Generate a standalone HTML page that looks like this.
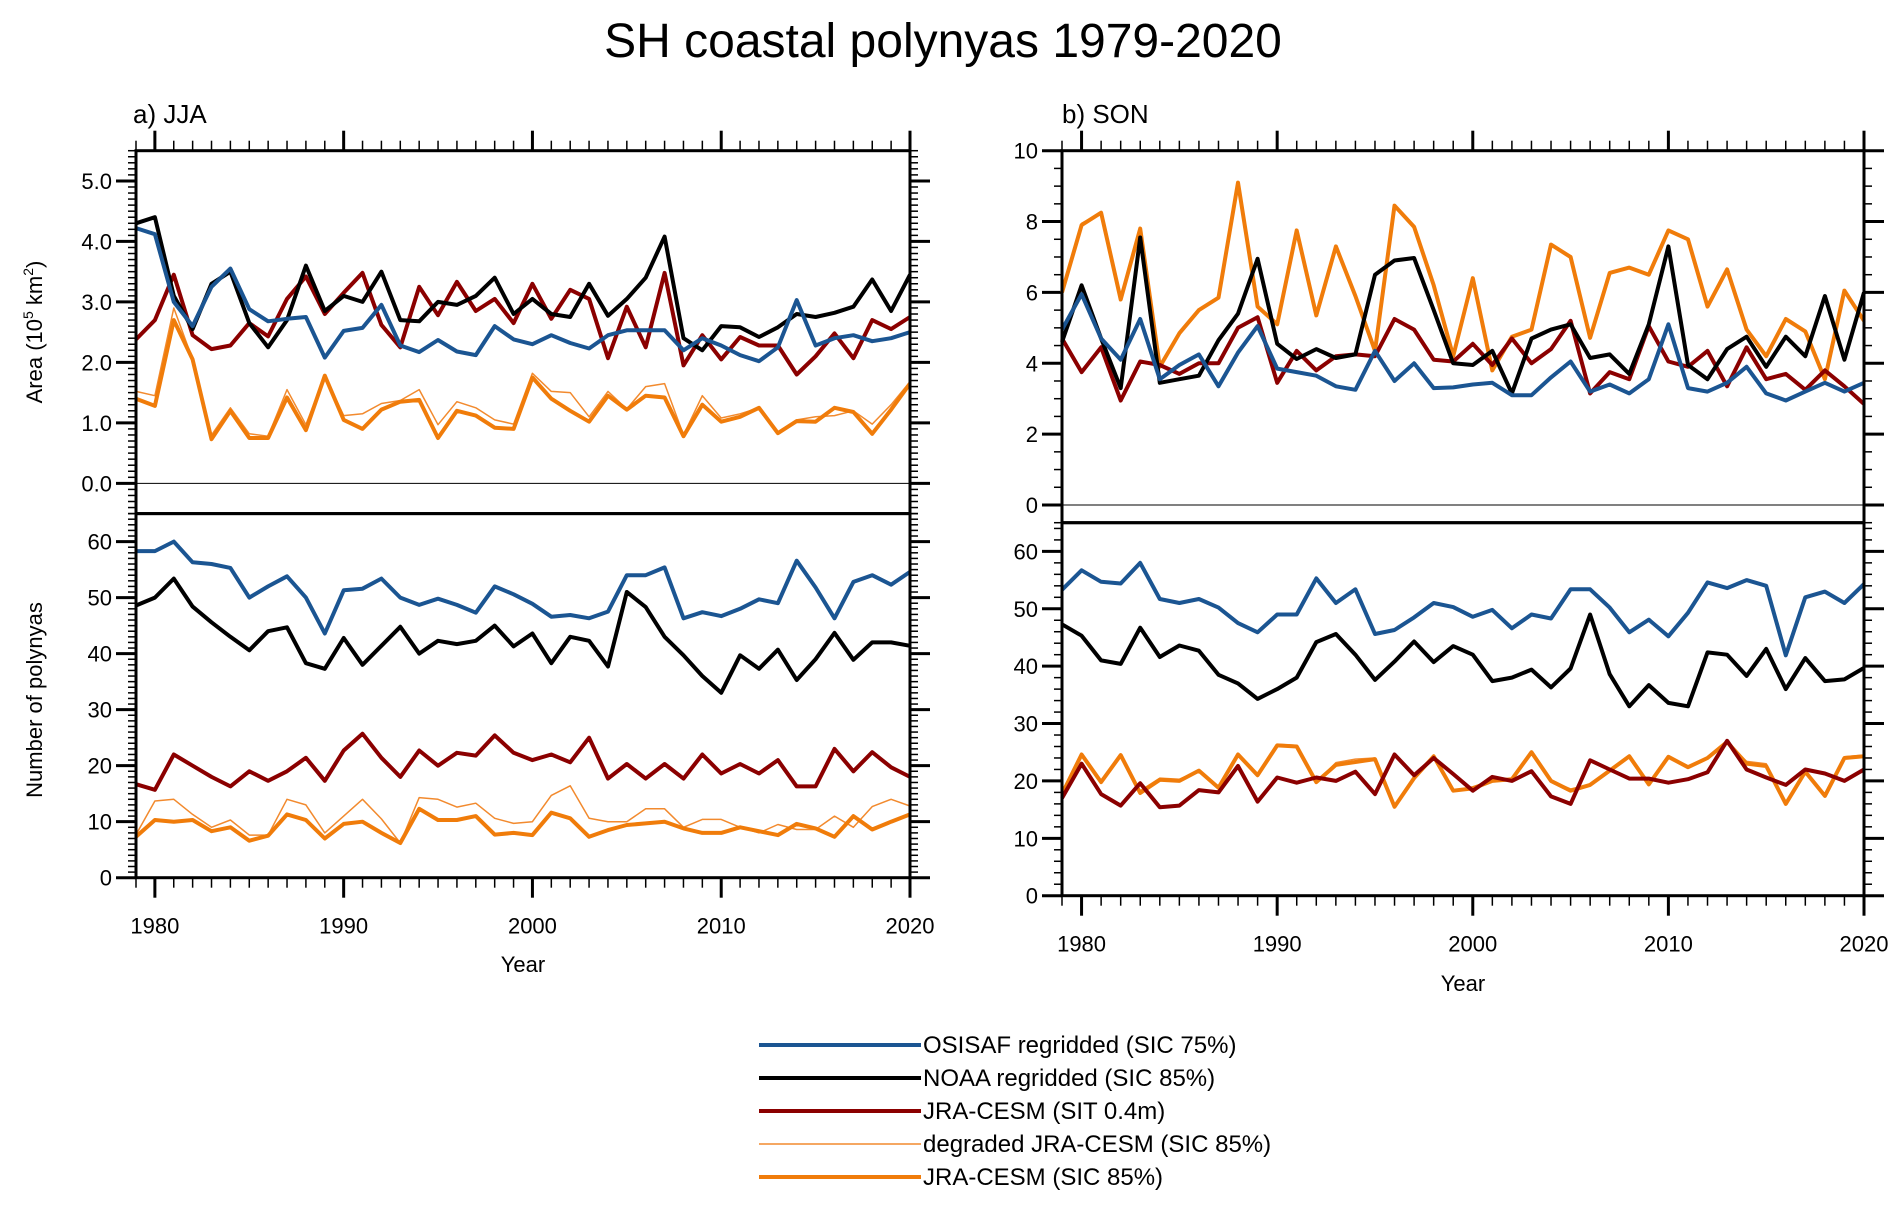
<!DOCTYPE html>
<html><head><meta charset="utf-8">
<style>
html,body{margin:0;padding:0;background:#fff;}
svg{display:block;font-family:"Liberation Sans",sans-serif;}
</style></head>
<body>
<svg id="fig" width="1892" height="1209" viewBox="0 0 1892 1209" xmlns="http://www.w3.org/2000/svg">
<text x="943" y="57" font-size="48" text-anchor="middle">SH coastal polynyas 1979-2020</text>
<text x="133" y="123" font-size="26">a) JJA</text>
<text x="1062" y="123" font-size="26">b) SON</text>
<g id="plots"></g>
<g font-size="24">
  <line x1="759" y1="1045" x2="921" y2="1045" stroke="#1b5592" stroke-width="4"/>
  <text x="923" y="1053">OSISAF regridded (SIC 75%)</text>
  <line x1="759" y1="1078" x2="921" y2="1078" stroke="#000" stroke-width="4"/>
  <text x="923" y="1086">NOAA regridded (SIC 85%)</text>
  <line x1="759" y1="1111" x2="921" y2="1111" stroke="#8b0000" stroke-width="4"/>
  <text x="923" y="1119">JRA-CESM (SIT 0.4m)</text>
  <line x1="759" y1="1144" x2="921" y2="1144" stroke="#f28a2e" stroke-width="1.5"/>
  <text x="923" y="1152">degraded JRA-CESM (SIC 85%)</text>
  <line x1="759" y1="1177" x2="921" y2="1177" stroke="#f07c0a" stroke-width="4"/>
  <text x="923" y="1185">JRA-CESM (SIC 85%)</text>
</g>
</svg>
<script>
const years = [];
for (let y = 1979; y <= 2020; y++) years.push(y);

// a) JJA area (10^5 km^2)
const jjaAreaOsisaf = [4.22,4.12,3.0,2.6,3.25,3.55,2.88,2.68,2.72,2.75,2.08,2.52,2.57,2.95,2.28,2.17,2.37,2.18,2.12,2.6,2.38,2.3,2.45,2.32,2.23,2.45,2.53,2.53,2.53,2.2,2.4,2.28,2.12,2.02,2.25,3.03,2.28,2.4,2.45,2.35,2.4,2.5];
const jjaAreaNoaa = [4.3,4.4,3.1,2.55,3.3,3.5,2.65,2.25,2.7,3.6,2.85,3.1,3.0,3.5,2.7,2.68,3.0,2.95,3.1,3.4,2.8,3.05,2.8,2.75,3.3,2.77,3.05,3.4,4.08,2.4,2.2,2.6,2.58,2.42,2.58,2.8,2.75,2.82,2.92,3.37,2.85,3.45];
const jjaAreaJraSit = [2.38,2.7,3.45,2.45,2.22,2.28,2.65,2.43,3.05,3.42,2.8,3.15,3.48,2.62,2.25,3.25,2.78,3.33,2.85,3.05,2.65,3.3,2.72,3.2,3.05,2.07,2.92,2.25,3.48,1.95,2.45,2.05,2.42,2.28,2.28,1.8,2.1,2.48,2.07,2.7,2.55,2.75];
const jjaAreaDegraded = [1.52,1.45,2.9,2.05,0.8,1.25,0.82,0.78,1.55,0.97,1.78,1.12,1.15,1.32,1.37,1.55,0.97,1.35,1.25,1.05,0.98,1.82,1.52,1.5,1.1,1.52,1.23,1.6,1.65,0.8,1.45,1.08,1.15,1.25,0.85,1.05,1.1,1.12,1.2,0.98,1.3,1.68];
const jjaAreaJraSic = [1.4,1.28,2.7,2.05,0.73,1.2,0.75,0.75,1.42,0.88,1.78,1.05,0.9,1.22,1.35,1.38,0.75,1.2,1.12,0.92,0.9,1.75,1.4,1.2,1.02,1.45,1.22,1.45,1.42,0.78,1.3,1.02,1.1,1.25,0.83,1.03,1.02,1.25,1.18,0.82,1.22,1.65];

// a) JJA number of polynyas
const jjaNumOsisaf = [58.3,58.3,60,56.3,56,55.3,50,52,53.8,50,43.6,51.3,51.6,53.4,50,48.7,49.8,48.7,47.3,52,50.6,48.9,46.6,46.9,46.3,47.5,54,54,55.4,46.3,47.4,46.7,48,49.7,49,56.6,51.8,46.3,52.8,54,52.3,54.6];
const jjaNumNoaa = [48.6,50,53.4,48.4,45.6,43,40.6,44,44.7,38.3,37.3,42.8,38,41.4,44.8,40,42.3,41.7,42.3,45,41.3,43.6,38.3,43,42.3,37.7,51,48.3,43,39.7,36,33,39.7,37.3,40.7,35.3,39,43.7,38.9,42,42,41.4];
const jjaNumJraSit = [16.7,15.7,22,20,18,16.3,19,17.3,19,21.4,17.3,22.7,25.7,21.4,18,22.7,20,22.3,21.8,25.4,22.3,21,22,20.6,25,17.7,20.3,17.7,20.3,17.7,22,18.6,20.3,18.6,21,16.3,16.3,23,19,22.4,19.7,18];
const jjaNumDegraded = [7.7,13.7,14,11.3,9,10.3,7.6,7.6,14,13,8,11,14,10.5,6.2,14.3,14,12.6,13.3,10.6,9.7,10,14.7,16.4,10.6,10,10,12.3,12.3,9,10.4,10.4,9,8,9.5,8.6,8.6,11,9,12.7,14,12.8];
const jjaNumJraSic = [7.3,10.3,10,10.3,8.3,9,6.6,7.5,11.3,10.3,7,9.6,10,8,6.2,12.3,10.3,10.3,11,7.7,8,7.6,11.6,10.6,7.3,8.5,9.4,9.7,10,8.8,8,8,9,8.3,7.6,9.6,8.8,7.3,11,8.6,10,11.3];

// b) SON area
const sonAreaOsisaf = [4.95,5.95,4.7,4.1,5.25,3.55,3.95,4.25,3.35,4.3,5.05,3.85,3.75,3.65,3.35,3.25,4.35,3.5,4.0,3.3,3.32,3.4,3.45,3.1,3.1,3.6,4.05,3.2,3.4,3.15,3.55,5.1,3.3,3.2,3.45,3.9,3.15,2.95,3.2,3.45,3.2,3.45];
const sonAreaNoaa = [4.6,6.2,4.7,3.3,7.55,3.45,3.55,3.65,4.65,5.4,6.95,4.55,4.12,4.4,4.15,4.25,6.5,6.9,6.97,5.5,4.0,3.95,4.35,3.15,4.7,4.95,5.1,4.15,4.25,3.7,5.1,7.3,3.95,3.55,4.4,4.75,3.9,4.75,4.2,5.9,4.1,6.0];
const sonAreaJraSit = [4.7,3.75,4.45,2.95,4.05,3.95,3.7,4.0,4.0,5.0,5.3,3.45,4.35,3.8,4.2,4.25,4.2,5.25,4.95,4.1,4.05,4.55,3.95,4.7,4.0,4.4,5.2,3.15,3.75,3.55,5.05,4.05,3.9,4.35,3.35,4.45,3.55,3.7,3.25,3.8,3.35,2.85];
const sonAreaDegraded = [6.05,7.95,8.25,5.85,7.8,3.95,4.85,5.5,5.85,9.1,5.6,5.15,7.75,5.35,7.3,5.9,4.4,8.45,7.85,6.2,4.25,6.4,3.85,4.75,4.95,7.35,7.0,4.75,6.55,6.7,6.5,7.75,7.5,5.6,6.65,4.95,4.2,5.25,4.9,3.6,6.05,5.2];
const sonAreaJraSic = [6.0,7.9,8.25,5.8,7.8,3.9,4.85,5.5,5.85,9.1,5.6,5.1,7.75,5.35,7.3,5.9,4.35,8.45,7.85,6.2,4.2,6.4,3.8,4.75,4.95,7.35,7.0,4.72,6.55,6.7,6.5,7.75,7.5,5.6,6.65,4.95,4.2,5.25,4.9,3.55,6.05,5.2];

// b) SON number of polynyas
const sonNumOsisaf = [53.3,56.7,54.7,54.4,58,51.7,51,51.7,50.2,47.5,45.9,49,49,55.3,51,53.4,45.6,46.3,48.5,51,50.3,48.6,49.8,46.6,49,48.3,53.4,53.4,50.2,45.9,48.1,45.2,49.3,54.6,53.6,55,54,41.9,52,53,51,54.3];
const sonNumNoaa = [47.3,45.3,41,40.4,46.7,41.6,43.6,42.7,38.5,37,34.3,36,38,44.2,45.6,42,37.6,40.8,44.3,40.7,43.5,42,37.4,38,39.4,36.3,39.6,49,38.6,33,36.7,33.6,33,42.4,42,38.3,43,36,41.4,37.4,37.7,39.7];
const sonNumJraSit = [17,23,17.7,15.7,19.6,15.4,15.7,18.4,18,22.6,16.4,20.6,19.7,20.6,20,21.6,17.7,24.6,21,24,21.2,18.3,20.7,20,21.7,17.3,16,23.6,22,20.4,20.4,19.7,20.3,21.5,27,22,20.6,19.3,22,21.3,20,22];
const sonNumDegraded = [18,24.6,20,24.5,18.3,20.5,20.3,21.8,18.8,24.6,21,26.4,26.2,19.8,23.2,23.8,24,15.5,20.5,24.3,18.3,19,20,20.3,25,20,18.6,19.3,22,24.3,19.4,24.2,22.4,24,26.8,23.4,23,16,21.6,17.4,24.2,24.5];
const sonNumJraSic = [17.7,24.6,19.8,24.5,17.9,20.2,20,21.8,18.8,24.6,21,26.2,26,19.8,22.8,23.3,23.8,15.5,20.5,24.3,18.3,18.7,20,20.3,25,20,18.3,19.3,21.8,24.3,19.4,24.2,22.4,24,26.8,23,22.6,16,21.6,17.4,24,24.3];

const NS = 'http://www.w3.org/2000/svg';
const root = document.getElementById('plots');
function mk(tag, attrs, parent) {
  const e = document.createElementNS(NS, tag);
  for (const k in attrs) e.setAttribute(k, attrs[k]);
  (parent || root).appendChild(e);
  return e;
}
const COLORS = {osisaf:'#1b5592', noaa:'#000000', jrasit:'#8b0000', degraded:'#f28a2e', jrasic:'#f07c0a'};

function panel(cfg) {
  const g = mk('g', {});
  
  
  const xs = v => cfg.x0 + (v - 1979) / 41 * (cfg.x1 - cfg.x0);
  const ys = v => cfg.yb - (v - cfg.ymin) / (cfg.ymax - cfg.ymin) * (cfg.yb - cfg.yt);
  for (let v = cfg.ymin; v <= cfg.ymax + 1e-9; v += cfg.minor) {
    const y = ys(v);
    mk('line', {x1: cfg.x0 - 8, x2: cfg.x0, y1: y, y2: y, stroke: '#000', 'stroke-width': 1.5}, g);
    mk('line', {x1: cfg.x1, x2: cfg.x1 + 8, y1: y, y2: y, stroke: '#000', 'stroke-width': 1.5}, g);
  }
  cfg.majors.forEach((v, i) => {
    const y = ys(v);
    mk('line', {x1: cfg.x0 - 20, x2: cfg.x0, y1: y, y2: y, stroke: '#000', 'stroke-width': 3}, g);
    mk('line', {x1: cfg.x1, x2: cfg.x1 + 20, y1: y, y2: y, stroke: '#000', 'stroke-width': 3}, g);
    const t = mk('text', {x: cfg.x0 - 24, y: y + 8, 'font-size': 22, 'text-anchor': 'end'}, g);
    
    
    t.textContent = cfg.labels[i];
  });
  const top = cfg.xTop;
  years.forEach(yr => {
    const x = xs(yr);
    const major = yr % 10 === 0;
    const len = major ? 20 : 10;
    if (top) mk('line', {x1: x, x2: x, y1: cfg.yt - len, y2: cfg.yt, stroke: '#000', 'stroke-width': major ? 3 : 1.5}, g);
    else mk('line', {x1: x, x2: x, y1: cfg.yb, y2: cfg.yb + len, stroke: '#000', 'stroke-width': major ? 3 : 1.5}, g);
    if (!top && major) {
      const t = mk('text', {x: x, y: cfg.yb + 56, 'font-size': 22, 'text-anchor': 'middle'}, g);
      
      
      t.textContent = yr;
    }
  });
  if (cfg.zero) {
    mk('line', {x1: cfg.x0, x2: cfg.x1, y1: ys(0), y2: ys(0), stroke: '#000', 'stroke-width': 1}, g);
  }
  cfg.series.forEach(s => {
    const d = s.data.map((v, i) => (i ? 'L' : 'M') + xs(years[i]).toFixed(1) + ',' + ys(v).toFixed(1)).join('');
    const p = mk('path', {d: d, fill: 'none', stroke: COLORS[s.c], 'stroke-width': s.w, 'stroke-linejoin': 'round'}, g);
    
    
  });
  const fr = mk('rect', {x: cfg.x0, y: cfg.yt, width: cfg.x1 - cfg.x0, height: cfg.yb - cfg.yt, fill: 'none', stroke: '#000', 'stroke-width': 3}, g);
  
  
  return g;
}

function seriesSet(o, d, s, g, c) {
  return [
    {data: g, c: 'degraded', w: 1.5, n: 'line-degraded-jra-cesm'},
    {data: c, c: 'jrasic', w: 4, n: 'line-jra-cesm-sic85'},
    {data: s, c: 'jrasit', w: 4, n: 'line-jra-cesm-sit'},
    {data: d, c: 'noaa', w: 4, n: 'line-noaa'},
    {data: o, c: 'osisaf', w: 4, n: 'line-osisaf'}
  ];
}

panel({name: 'jja-area-panel', x0: 136, x1: 910, yt: 150.7, yb: 513.6, ymin: -0.5, ymax: 5.5, minor: 0.1,
  majors: [0,1,2,3,4,5], labels: ['0.0','1.0','2.0','3.0','4.0','5.0'], xTop: true, zero: true,
  series: seriesSet(jjaAreaOsisaf, jjaAreaNoaa, jjaAreaJraSit, jjaAreaDegraded, jjaAreaJraSic)});
panel({name: 'jja-number-panel', x0: 136, x1: 910, yt: 513.6, yb: 877.7, ymin: 0, ymax: 65, minor: 1,
  majors: [0,10,20,30,40,50,60], labels: ['0','10','20','30','40','50','60'], xTop: false,
  series: seriesSet(jjaNumOsisaf, jjaNumNoaa, jjaNumJraSit, jjaNumDegraded, jjaNumJraSic)});
panel({name: 'son-area-panel', x0: 1062, x1: 1864, yt: 150.7, yb: 522.7, ymin: -0.5, ymax: 10, minor: 0.5,
  majors: [0,2,4,6,8,10], labels: ['0','2','4','6','8','10'], xTop: true, zero: true,
  series: seriesSet(sonAreaOsisaf, sonAreaNoaa, sonAreaJraSit, sonAreaDegraded, sonAreaJraSic)});
panel({name: 'son-number-panel', x0: 1062, x1: 1864, yt: 522.7, yb: 895.7, ymin: 0, ymax: 65, minor: 2,
  majors: [0,10,20,30,40,50,60], labels: ['0','10','20','30','40','50','60'], xTop: false,
  series: seriesSet(sonNumOsisaf, sonNumNoaa, sonNumJraSit, sonNumDegraded, sonNumJraSic)});

function txt(name, attrs, content) {
  const t = mk('text', attrs);
  
  
  t.innerHTML = content;
}
txt('x-axis-title-left', {x: 523, y: 972, 'font-size': 22, 'text-anchor': 'middle'}, 'Year');
txt('x-axis-title-right', {x: 1463, y: 991, 'font-size': 22, 'text-anchor': 'middle'}, 'Year');
txt('y-axis-title-area', {x: 0, y: 0, 'font-size': 22, 'text-anchor': 'middle', transform: 'translate(42,332) rotate(-90)'},
  'Area (10<tspan font-size="14" dy="-9">5</tspan><tspan dy="9"> km</tspan><tspan font-size="14" dy="-9">2</tspan><tspan dy="9">)</tspan>');
txt('y-axis-title-number', {x: 0, y: 0, 'font-size': 22, 'text-anchor': 'middle', transform: 'translate(42,700) rotate(-90)'}, 'Number of polynyas');
</script>
</body></html>
